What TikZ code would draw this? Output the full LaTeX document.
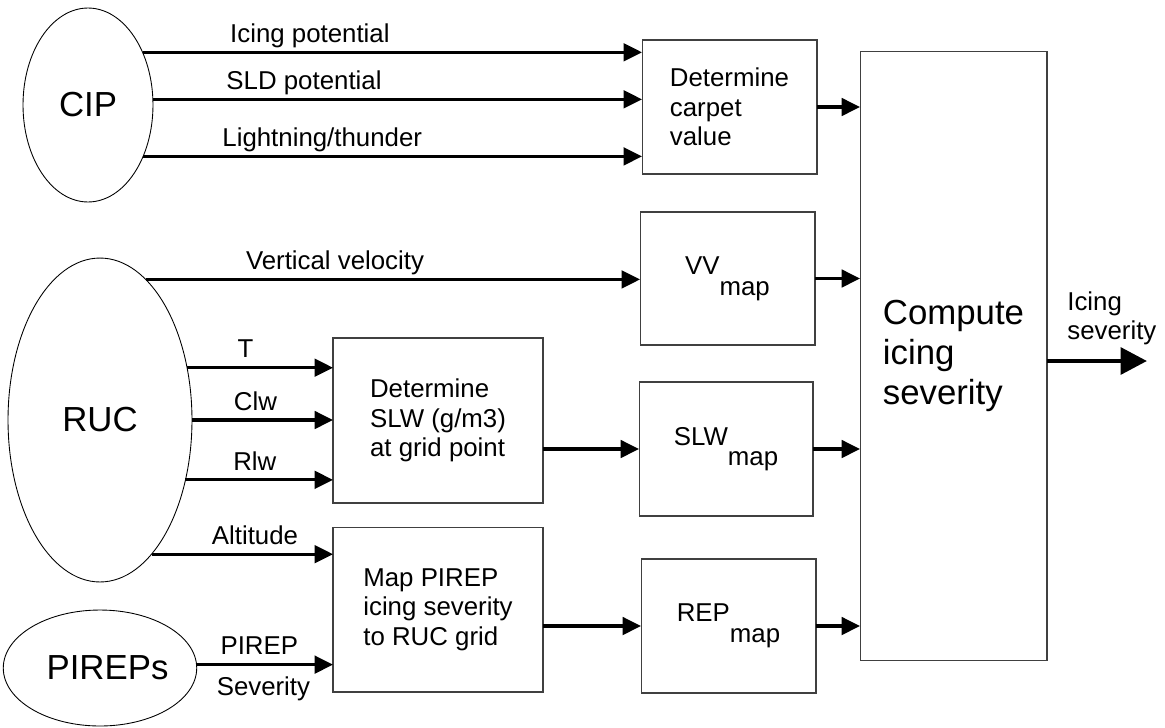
\documentclass[tikz,border=0pt]{standalone}
\usepackage{fontspec}
\setmainfont{Liberation Sans}
\usetikzlibrary{arrows.meta,shapes.geometric}

\newcommand{\lblfont}{\fontsize{14.7}{16.7}\selectfont}
\newcommand{\bigfont}{\fontsize{19.8}{22.7}\selectfont}
\newcommand{\mapsub}[1]{#1\raisebox{-0.8em}{map}}

\begin{document}
\begin{tikzpicture}[
        x=0.02cm, y=-0.02cm,
        src/.style={ellipse,draw,line width=0.5pt,inner sep=0pt,outer sep=0pt,font=\bigfont},
        proc/.style={rectangle,draw=black!75,line width=0.6pt,inner sep=0pt,outer sep=0pt,align=left,font=\lblfont},
        lbl/.style={font=\lblfont,inner sep=1pt,text depth=3.7pt},
        arr/.style={-{Triangle[length=10.5pt,width=10pt]},line width=1.8pt},
        bigarr/.style={-{Triangle[length=15pt,width=15pt]},line width=2.8pt}
    ]
        \useasboundingbox (0,0) rectangle (1165,727);

        % sources
        \node[src,minimum width=2.6cm,minimum height=3.88cm] (cip) at (88,105) {CIP};
        \node[src,minimum width=3.68cm,minimum height=6.48cm] (ruc) at (100,420) {RUC};
        \node[src,minimum width=3.72cm,minimum height=2.32cm] (pireps) at (100,668) {\hspace*{0.3cm}PIREPs};

        % processing boxes
        \node[proc,minimum width=3.5cm,minimum height=2.68cm] (carpet) at (729.5,107) {Determine\\carpet\\value};
        \node[proc,minimum width=3.5cm,minimum height=2.66cm] (vvmap) at (727.5,278.5) {\mapsub{VV}};
        \node[proc,minimum width=4.2cm,minimum height=3.3cm] (slwbox) at (438,420.5) {Determine\\SLW (g/m3)\\at grid point};
        \node[proc,minimum width=3.48cm,minimum height=2.68cm] (slwmap) at (726,449) {\mapsub{SLW}};
        \node[proc,minimum width=4.2cm,minimum height=3.3cm] (pirepbox) at (438,609.5) {Map PIREP\\icing severity\\to RUC grid};
        \node[proc,minimum width=3.5cm,minimum height=2.68cm] (repmap) at (728.5,626) {\mapsub{REP}};
        \node[proc,minimum width=3.74cm,minimum height=12.2cm,font=\bigfont] (compute) at (953.5,356) {Compute\\icing\\severity};

        % inputs
        \draw[arr] (cip.44) -- node[lbl,above,pos=0.335] {Icing potential} (cip.44 -| carpet.west);
        \draw[arr] (cip.5) -- node[lbl,above,pos=0.309] {SLD potential} (cip.5 -| carpet.west);
        \draw[arr] (cip.-43) -- node[lbl,above,pos=0.359] {Lightning/thunder} (cip.-43 -| carpet.west);
        \draw[arr] (ruc.72) -- node[lbl,above,pos=0.383] {Vertical velocity} (ruc.72 -| vvmap.west);
        \draw[arr] (ruc.31) -- node[lbl,above,pos=0.40] {T} (ruc.31 -| slwbox.west);
        \draw[arr] (ruc.east) -- node[lbl,above,pos=0.45] {Clw} (ruc.east -| slwbox.west);
        \draw[arr] (ruc.-35) -- node[lbl,above,pos=0.47] {Rlw} (ruc.-35 -| slwbox.west);
        \draw[arr] (ruc.-69) -- node[lbl,above,pos=0.57] {Altitude} (ruc.-69 -| pirepbox.west);
        \draw[arr] (pireps.2) -- node[lbl,above,pos=0.46] {PIREP}
            node[lbl,below=5pt,pos=0.49] {Severity} (pireps.2 -| pirepbox.west);

        % maps
        \draw[arr] (slwbox.east |- slwmap.west) -- (slwmap.west);
        \draw[arr] (pirepbox.east |- repmap.west) -- (repmap.west);
        \foreach \b in {carpet,vvmap,slwmap,repmap}
            \draw[arr] (\b.east) -- (\b.east -| compute.west);

        % output
        \coordinate (out) at (1147,361);
        \draw[bigarr] (compute.east |- out) -- (out);
        \node[font=\lblfont,inner sep=0pt,anchor=west,align=left] (outlbl) at (1067,318) {Icing\\severity};
    \end{tikzpicture}
\end{document}
